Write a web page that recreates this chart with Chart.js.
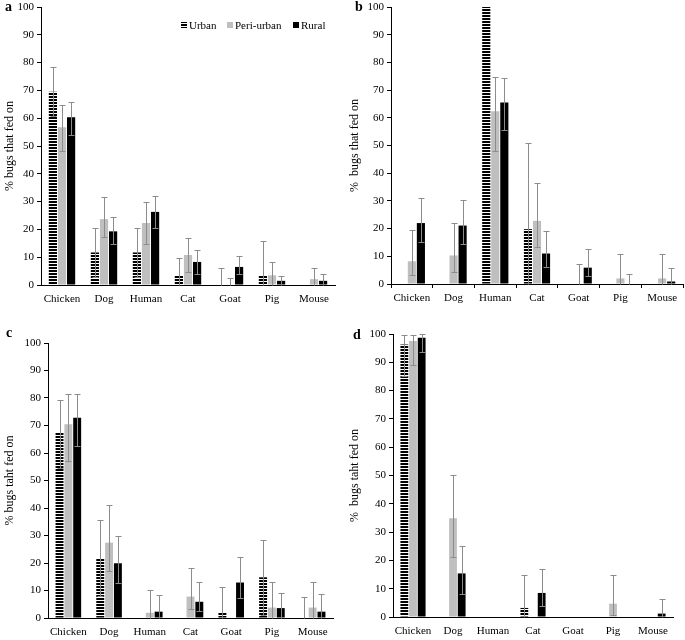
<!DOCTYPE html>
<html>
<head>
<meta charset="utf-8">
<script src="https://cdn.jsdelivr.net/npm/chart.js@4.4.0/dist/chart.umd.min.js"></script>
<style>
  body { margin: 0; background: #fff; }
  #wrap { position: relative; width: 685px; height: 640px; }
  canvas { position: absolute; }
  .tag { position: absolute; font: bold 14px "Liberation Serif", serif; line-height: 14px; }
</style>
</head>
<body>
<div id="wrap">
  <canvas id="pa" width="340" height="310" style="left:0;top:0"></canvas>
  <canvas id="pb" width="345" height="310" style="left:340px;top:0"></canvas>
  <canvas id="pc" width="340" height="330" style="left:0;top:310px"></canvas>
  <canvas id="pd" width="345" height="330" style="left:340px;top:310px"></canvas>
  <div class="tag" style="left:5px;top:0">a</div>
  <div class="tag" style="left:355px;top:0">b</div>
  <div class="tag" style="left:6px;top:326px">c</div>
  <div class="tag" style="left:353px;top:328px">d</div>
</div>
<script>
const categories = ['Chicken', 'Dog', 'Human', 'Cat', 'Goat', 'Pig', 'Mouse'];
const seriesNames = ['Urban', 'Peri-urban', 'Rural'];

// error bars are [lower, upper] in %, null = none
const aUrban = [69.5, 11.7, 11.7, 3.3, 0.3, 3.5, 0];
const aUrbanErr = [[60.7, 78.3], [2.8, 20.6], [2.8, 20.6], [0, 9.8], [0, 6.2], [0, 16], null];
const aPeri = [56.7, 23.7, 22.3, 10.8, 0, 3.5, 2.1];
const aPeriErr = [[48.3, 64.9], [17.4, 31.6], [14.6, 29.9], [4.5, 17], [0, 2.6], [0, 8.1], [0, 6.1]];
const aRural = [60.3, 19.3, 26.3, 8.3, 6.5, 1.5, 1.5];
const aRuralErr = [[54, 66], [14.7, 24.6], [20.6, 32.1], [4, 12.7], [3.9, 10.3], [0, 3.4], [0, 3.8]];

const bUrban = [0, 0, 100, 19.8, 0, 0, 0];
const bUrbanErr = [null, null, null, [0, 51], null, null, null];
const bPeri = [8.2, 10.3, 62.4, 22.8, 0, 2, 2];
const bPeriErr = [[3.2, 19.4], [4.5, 22.2], [48.1, 74.7], [13.4, 36.6], [0, 7.3], [0, 10.8], [0, 10.8]];
const bRural = [22, 21.1, 65.5, 11, 5.9, 0, 0.9];
const bRuralErr = [[15, 31.2], [14.4, 30.3], [55.7, 74.3], [6.1, 19], [2.9, 12.6], [0, 3.7], [0, 5.6]];

const cUrban = [67.3, 21.8, 0, 0, 1.9, 14.8, 0];
const cUrbanErr = [[54.4, 79.3], [8.1, 35.5], null, null, [0, 11.3], [1.2, 28.4], [0, 7.8]];
const cPeri = [70.5, 27.4, 1.9, 7.8, 0, 3.8, 3.8];
const cPeriErr = [[57, 81.3], [17, 41], [0, 10.3], [3.3, 18.1], null, [0, 13.2], [0, 13.2]];
const cRural = [72.8, 19.9, 2.3, 5.9, 12.9, 3.6, 2.3];
const cRuralErr = [[62.4, 81.3], [12.7, 29.8], [0, 8.2], [2.5, 13], [7.4, 22.3], [0, 9.1], [0, 8.7]];

const dUrban = [96.3, 0, 0, 3.2, 0, 0, 0];
const dUrbanErr = [[85, 99.8], null, null, [0, 15], null, null, null];
const dPeri = [97.5, 34.9, 0, 0, 0, 4.7, 0];
const dPeriErr = [[88.9, 99.8], [21.3, 50.2], null, null, null, [0.8, 14.8], null];
const dRural = [98.7, 15.4, 0, 8.5, 0, 0, 1.2];
const dRuralErr = [[93.6, 100], [8.3, 25.2], null, [3.8, 16.8], null, null, [0, 6.2]];

const FONT = '"Liberation Serif", "Times New Roman", serif';
const ERR_COLOR = '#8c8c8c';

function stripes(ctx) {
  const c = document.createElement('canvas');
  c.width = 4; c.height = 3;
  const g = c.getContext('2d');
  g.fillStyle = '#fff'; g.fillRect(0, 0, 4, 3);
  g.fillStyle = '#000'; g.fillRect(0, 0, 4, 2);
  return ctx.createPattern(c, 'repeat');
}

const errorBars = {
  id: 'errorBars',
  afterDatasetsDraw(chart) {
    const ctx = chart.ctx, y = chart.scales.y;
    ctx.save();
    ctx.strokeStyle = ERR_COLOR;
    ctx.lineWidth = 1;
    chart.data.datasets.forEach((ds, i) => {
      chart.getDatasetMeta(i).data.forEach((bar, j) => {
        const e = ds.errors[j];
        if (!e) return;
        const x = Math.round(bar.x) + 0.5;
        const lo = Math.round(y.getPixelForValue(e[0])) + 0.5;
        const hi = Math.round(y.getPixelForValue(e[1])) + 0.5;
        ctx.beginPath();
        ctx.moveTo(x, lo); ctx.lineTo(x, hi);
        ctx.moveTo(x - 3, hi); ctx.lineTo(x + 3, hi);
        if (e[0] > 0) { ctx.moveTo(x - 3, lo); ctx.lineTo(x + 3, lo); }
        ctx.stroke();
      });
    });
    ctx.restore();
  }
};

// legend only on panel a, inside the plot
const legendA = {
  id: 'legendA',
  afterDraw(chart) {
    const ctx = chart.ctx;
    const xs = [181, 227, 293];
    ctx.save();
    ctx.font = '11px ' + FONT;
    ctx.textBaseline = 'alphabetic';
    chart.data.datasets.forEach((ds, i) => {
      ctx.fillStyle = ds.backgroundColor;
      ctx.fillRect(xs[i], 22, 6, 6);
      ctx.fillStyle = '#000';
      ctx.fillText(ds.label, xs[i] + 8, 29);
    });
    ctx.restore();
  }
};

function makePanel(id, vals, errs, g) {
  const canvas = document.getElementById(id);
  const ctx = canvas.getContext('2d');
  const fills = [stripes(ctx), '#bfbfbf', '#000'];
  const plugins = [errorBars];
  if (g.legend) plugins.push(legendA);

  return new Chart(canvas, {
    type: 'bar',
    data: {
      labels: categories,
      datasets: seriesNames.map((name, i) => ({
        label: name,
        data: vals[i],
        errors: errs[i],
        backgroundColor: fills[i],
        borderWidth: 0,
        categoryPercentage: 0.65,
        barPercentage: 0.9
      }))
    },
    options: {
      responsive: false,
      animation: false,
      layout: { padding: { top: g.top, right: g.right, left: 0, bottom: 0 } },
      plugins: { legend: { display: false }, tooltip: { enabled: false } },
      scales: {
        x: {
          grid: { drawOnChartArea: false, drawTicks: g.xTicks, tickLength: 4, color: '#000', offset: true },
          border: { color: '#000', width: 1 },
          ticks: { color: '#000', font: { family: FONT, size: 11 }, padding: g.xTicks ? 4 : 8, maxRotation: 0, autoSkip: false },
          afterFit: s => { s.height = g.xh; s.paddingLeft = 0; s.paddingRight = 0; }
        },
        y: {
          min: 0,
          max: 100,
          ticks: { stepSize: 10, color: '#000', font: { family: FONT, size: 11 }, padding: 3 },
          grid: { drawOnChartArea: false, drawTicks: true, tickLength: 4, color: '#000' },
          border: { color: '#000', width: 1 },
          title: { display: true, text: g.title, color: '#000', font: { family: FONT, size: 12 }, padding: { top: g.tp, bottom: 0 } },
          afterFit: s => { s.width = g.left; s.paddingTop = 0; s.paddingBottom = 0; }
        }
      }
    },
    plugins: plugins
  });
}

makePanel('pa', [aUrban, aPeri, aRural], [aUrbanErr, aPeriErr, aRuralErr],
  { title: '% bugs that fed on', left: 41, top: 7, right: 5, xh: 25, tp: 3, xTicks: false, legend: true });
makePanel('pb', [bUrban, bPeri, bRural], [bUrbanErr, bPeriErr, bRuralErr],
  { title: '%  bugs that fed on', left: 51, top: 7, right: 2, xh: 26, tp: 8, xTicks: true });
makePanel('pc', [cUrban, cPeri, cRural], [cUrbanErr, cPeriErr, cRuralErr],
  { title: '% bugs taht fed on', left: 48, top: 33, right: 7, xh: 22, tp: 3, xTicks: false });
makePanel('pd', [dUrban, dPeri, dRural], [dUrbanErr, dPeriErr, dRuralErr],
  { title: '%  bugs taht fed on', left: 53, top: 24, right: 12, xh: 23, tp: 8, xTicks: false });
</script>
</body>
</html>
